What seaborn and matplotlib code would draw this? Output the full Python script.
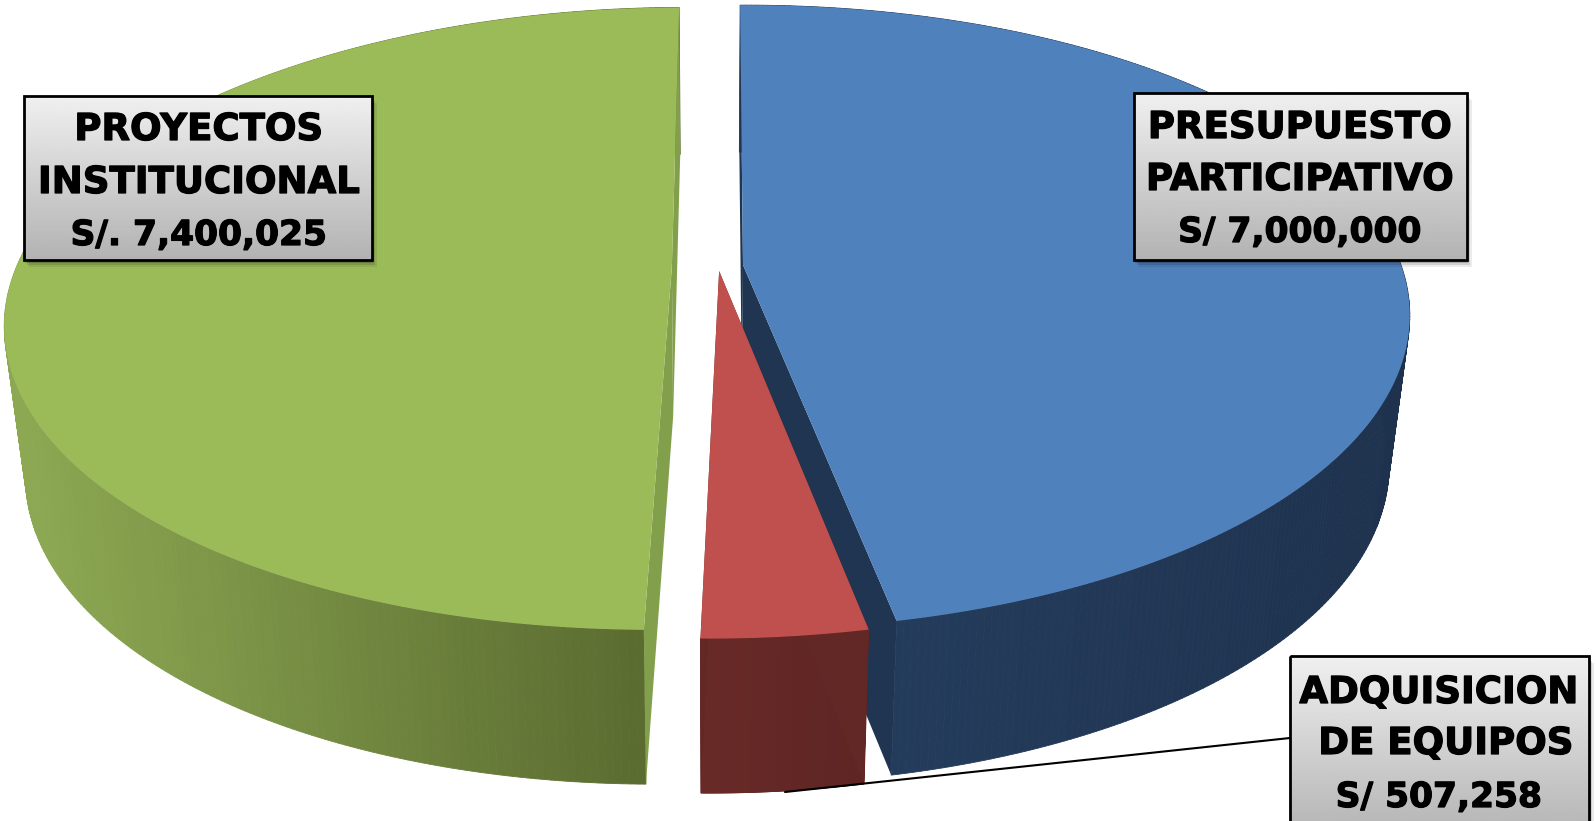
import numpy as np
import matplotlib
matplotlib.use('Agg')
import matplotlib.pyplot as plt
import matplotlib.patheffects as pe
from matplotlib.collections import PolyCollection
from matplotlib.patches import Rectangle
import seaborn as sns

# Datos
categorias = ['PRESUPUESTO PARTICIPATIVO', 'ADQUISICION DE EQUIPOS', 'PROYECTOS INSTITUCIONAL']
valores = [7000000, 507258, 7400025]
etiquetas = [
    ['PRESUPUESTO', 'PARTICIPATIVO', 'S/ 7,000,000'],
    ['ADQUISICION', 'DE EQUIPOS', 'S/ 507,258'],
    ['PROYECTOS', 'INSTITUCIONAL', 'S/. 7,400,025'],
]

# Estilo de cada sector
color_cara = ['#4F81BD', '#C0504D', '#9BBB59']
color_corte = ['#1F3552', '#622826', '#82A04C']
lado_izq = ['#263F60', '#682A27', '#8CA852']
lado_der = ['#1E324E', '#5E2524', '#5A6B30']
desplazamiento = [(-0.038, 0.0), (-0.074, -0.02), (-0.146, -0.005)]
radio = [1.0, 1.0, 0.995]

# Proyeccion del pastel en pixeles
X_CENTRO, Y_CENTRO = 768, 265
ANCHO, ALTO, PERSPECTIVA = 658, 303.5, 0.168
GROSOR, ESCALA_BASE, X_BASE = 150, 0.97, 715
INICIO = -0.66

# Cajas de texto: x0, y0, x1, y1, centro de cada linea y linea base
cajas = [(1134, 93, 1467, 260), (1290, 656, 1589, 840), (24, 96, 372, 260)]
centros = [(1300, 1300, 1300), (1439, 1446, 1439), (199, 199, 199)]
bases = [(138, 190, 242), (703, 754, 807), (140, 193, 245)]
tamanos = (26.7, 26.7, 24.8)


def proyectar(theta, du, dv, r):
    """Pasa angulos del pastel a coordenadas de la imagen."""
    u = r * np.sin(theta) + du
    v = r * np.cos(theta) + dv
    s = 1 / (1 + PERSPECTIVA * v)
    return X_CENTRO + ANCHO * u * s, Y_CENTRO - ALTO * v * s


def base_de(x, y):
    """Punto equivalente en la cara inferior."""
    return X_BASE + (x - X_BASE) * ESCALA_BASE, y + GROSOR + (y - Y_CENTRO) * 0.012


def dibujar_sector(ax, a0, a1, i):
    du, dv = desplazamiento[i]
    theta = np.radians(np.linspace(a0, a1, 300))
    x, y = proyectar(theta, du, dv, radio[i])
    # centro del sector, sin el radio
    s = 1 / (1 + PERSPECTIVA * dv)
    cx, cy = X_CENTRO + ANCHO * du * s, Y_CENTRO - ALTO * dv * s
    xb, yb = base_de(x, y)
    cxb, cyb = base_de(cx, cy)

    # lateral con degradado, tira por tira
    tiras = [[(x[j], y[j]), (x[j + 1], y[j + 1]), (xb[j + 1], yb[j + 1]), (xb[j], yb[j])]
             for j in range(len(x) - 1)]
    paleta = sns.blend_palette([lado_izq[i], lado_der[i]], 64)
    t = (x[:-1] - x.min()) / (x.max() - x.min())
    if i == 2:
        # el verde se oscurece hacia el corte frontal
        t = np.clip((x[:-1] - 20) / (645 - 20), 0, 1)
    colores = [paleta[int(k * 63)] for k in t]
    ax.add_collection(PolyCollection(tiras, facecolors=colores, edgecolors=colores, linewidths=0.6, zorder=i * 3 + 1))

    # caras de corte
    for j in (0, -1):
        ax.fill([cx, x[j], xb[j], cxb], [cy, y[j], yb[j], cyb], color=color_corte[i], lw=0, zorder=i * 3 + 1)

    # cara superior
    ax.fill(np.r_[cx, x], np.r_[cy, y], color=color_cara[i], lw=0, zorder=i * 3 + 2)


def dibujar_caja(ax, caja, lineas, xs, ys):
    x0, y0, x1, y1 = caja
    # sombra
    for d, alpha in zip((7, 5, 3), (0.08, 0.12, 0.18)):
        ax.add_patch(Rectangle((x0 + d - 2, y0 + d), x1 - x0, y1 - y0, color='black', alpha=alpha, lw=0, zorder=20))
    gris = np.linspace(0.94, 0.70, 100).reshape(-1, 1)
    ax.imshow(gris, cmap='gray', vmin=0, vmax=1, extent=(x0, x1, y1, y0), aspect='auto', zorder=21)
    ax.add_patch(Rectangle((x0, y0), x1 - x0, y1 - y0, fill=False, ec='black', lw=2, zorder=22))
    for linea, xt, yt, tam in zip(lineas, xs, ys, tamanos):
        ax.text(xt, yt, linea, ha='center', va='baseline', fontsize=tam, fontweight='bold',
                family='DejaVu Sans', color='black', zorder=23,
                path_effects=[pe.withStroke(linewidth=0.9, foreground='black')])


def main():
    sns.set_theme(style='white')
    fig = plt.figure(figsize=(15.96, 8.21), dpi=100)
    ax = fig.add_axes([0, 0, 1, 1])

    # angulos a partir de los valores
    total = sum(valores)
    angulos = np.cumsum([0] + [v / total * 360 for v in valores]) + INICIO
    for i in [2, 0, 1]:
        dibujar_sector(ax, angulos[i], angulos[i + 1], i)

    # linea guia de la etiqueta pequena
    ax.plot([785, 1290], [792, 738], color='black', lw=1.5, zorder=19)

    for i in range(len(categorias)):
        dibujar_caja(ax, cajas[i], etiquetas[i], centros[i], bases[i])

    ax.set_xlim(0, 1596)
    ax.set_ylim(821, 0)
    ax.axis('off')
    fig.savefig('out.png', dpi=100, facecolor='white')


if __name__ == '__main__':
    main()
